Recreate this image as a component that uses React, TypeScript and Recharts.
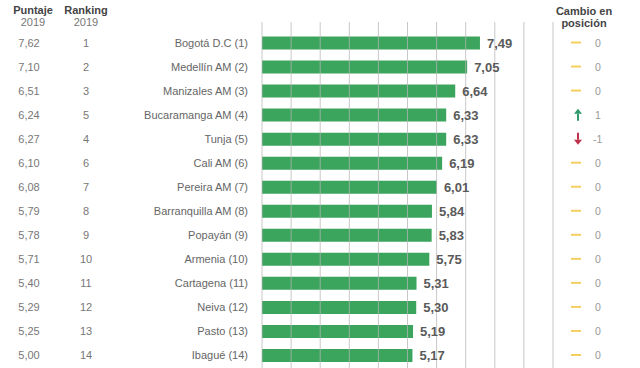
import React from 'react';
import { BarChart, Bar, XAxis, YAxis, ReferenceLine, LabelList } from 'recharts';

const cities = [
  'Bogotá D.C (1)', 'Medellín AM (2)', 'Manizales AM (3)', 'Bucaramanga AM (4)', 'Tunja (5)',
  'Cali AM (6)', 'Pereira AM (7)', 'Barranquilla AM (8)', 'Popayán (9)', 'Armenia (10)',
  'Cartagena (11)', 'Neiva (12)', 'Pasto (13)', 'Ibagué (14)',
];
const scores = [7.49, 7.05, 6.64, 6.33, 6.33, 6.19, 6.01, 5.84, 5.83, 5.75, 5.31, 5.30, 5.19, 5.17];
const scores2019 = [7.62, 7.10, 6.51, 6.24, 6.27, 6.10, 6.08, 5.79, 5.78, 5.71, 5.40, 5.29, 5.25, 5.00];
const ranks2019 = [1, 2, 3, 5, 4, 6, 7, 8, 9, 10, 11, 12, 13, 14];
const changes = [0, 0, 0, 1, -1, 0, 0, 0, 0, 0, 0, 0, 0, 0];
const gridTicks = [0, 1, 2, 3, 4, 5, 6, 7, 8, 9, 10];

const data = cities.map((name, i) => ({ name, score: scores[i] }));

const FONT = '"Liberation Sans", Arial, sans-serif';
const fmt = (v: number) => v.toFixed(2).replace('.', ',');

const RowTick = (props: any) => {
  const { y, payload } = props;
  const i = cities.indexOf(payload.value);
  const ch = changes[i];
  const cy = y;
  let icon: React.ReactNode;
  if (ch > 0) {
    icon = (
      <g fill="#2f9a6a" stroke="#2f9a6a">
        <line x1={578} y1={cy - 1} x2={578} y2={cy + 6} strokeWidth={2} />
        <path d={`M${574},${cy - 1} L${578},${cy - 6} L${582},${cy - 1} Z`} stroke="none" />
      </g>
    );
  } else if (ch < 0) {
    icon = (
      <g fill="#c0304a" stroke="#c0304a">
        <line x1={578} y1={cy - 6} x2={578} y2={cy + 1} strokeWidth={2} />
        <path d={`M${574},${cy + 1} L${578},${cy + 6} L${582},${cy + 1} Z`} stroke="none" />
      </g>
    );
  } else {
    icon = <line x1={571} y1={cy} x2={581} y2={cy} stroke="#f4cf5e" strokeWidth={2} />;
  }
  return (
    <g fontFamily={FONT}>
      <text x={29} y={cy} dy={4} textAnchor="middle" fontSize={11} fill="#777">{fmt(scores2019[i])}</text>
      <text x={86} y={cy} dy={4} textAnchor="middle" fontSize={11} fill="#777">{ranks2019[i]}</text>
      <text x={248} y={cy} dy={4} textAnchor="end" fontSize={11} fill="#666">{payload.value}</text>
      {icon}
      <text x={ch < 0 ? 593 : 595} y={cy} dy={4} textAnchor="start" fontSize={10.5} fill="#999">{ch}</text>
    </g>
  );
};

export default function App() {
  return (
    <div style={{ position: 'absolute', left: 0, top: 0, width: 640, height: 368, background: '#fff' }}>
      <svg width={640} height={30} style={{ position: 'absolute', left: 0, top: 0 }} fontFamily={FONT}>
        <text x={33} y={14} textAnchor="middle" fontSize={11} fontWeight="bold" fill="#444">Puntaje</text>
        <text x={33} y={26} textAnchor="middle" fontSize={11} fill="#777">2019</text>
        <text x={86} y={14} textAnchor="middle" fontSize={11} fontWeight="bold" fill="#444">Ranking</text>
        <text x={86} y={26} textAnchor="middle" fontSize={11} fill="#777">2019</text>
        <text x={584} y={15} textAnchor="middle" fontSize={11} fontWeight="bold" fill="#444">Cambio en</text>
        <text x={584} y={27} textAnchor="middle" fontSize={11} fontWeight="bold" fill="#444">posición</text>
      </svg>
      <div style={{ position: 'absolute', left: 0, top: 0 }}>
        <BarChart
          width={640}
          height={368}
          data={data}
          layout="vertical"
          margin={{ top: 22, right: 87, bottom: 0, left: 0 }}
          barSize={13}
        >
          <XAxis type="number" domain={[0, 10]} ticks={gridTicks} hide />
          <YAxis
            type="category"
            dataKey="name"
            width={262}
            axisLine={false}
            tickLine={false}
            padding={{ top: 8.5, bottom: 1 }}
            tick={(p: any) => <RowTick {...p} />}
            interval={0}
          />
          <Bar dataKey="score" fill="#3ba55e" isAnimationActive={false}>
            <LabelList
              dataKey="score"
              position="right"
              offset={7}
              formatter={(v: any) => fmt(Number(v))}
              fill="#5a5a5a"
              fontSize={13}
              fontWeight="bold"
              fontFamily={FONT}
            />
          </Bar>
          {gridTicks.map((t) => (
            <ReferenceLine key={t} x={t} stroke="#b5b5b5" strokeOpacity={0.75} strokeWidth={1} ifOverflow="visible" />
          ))}
        </BarChart>
      </div>
    </div>
  );
}
